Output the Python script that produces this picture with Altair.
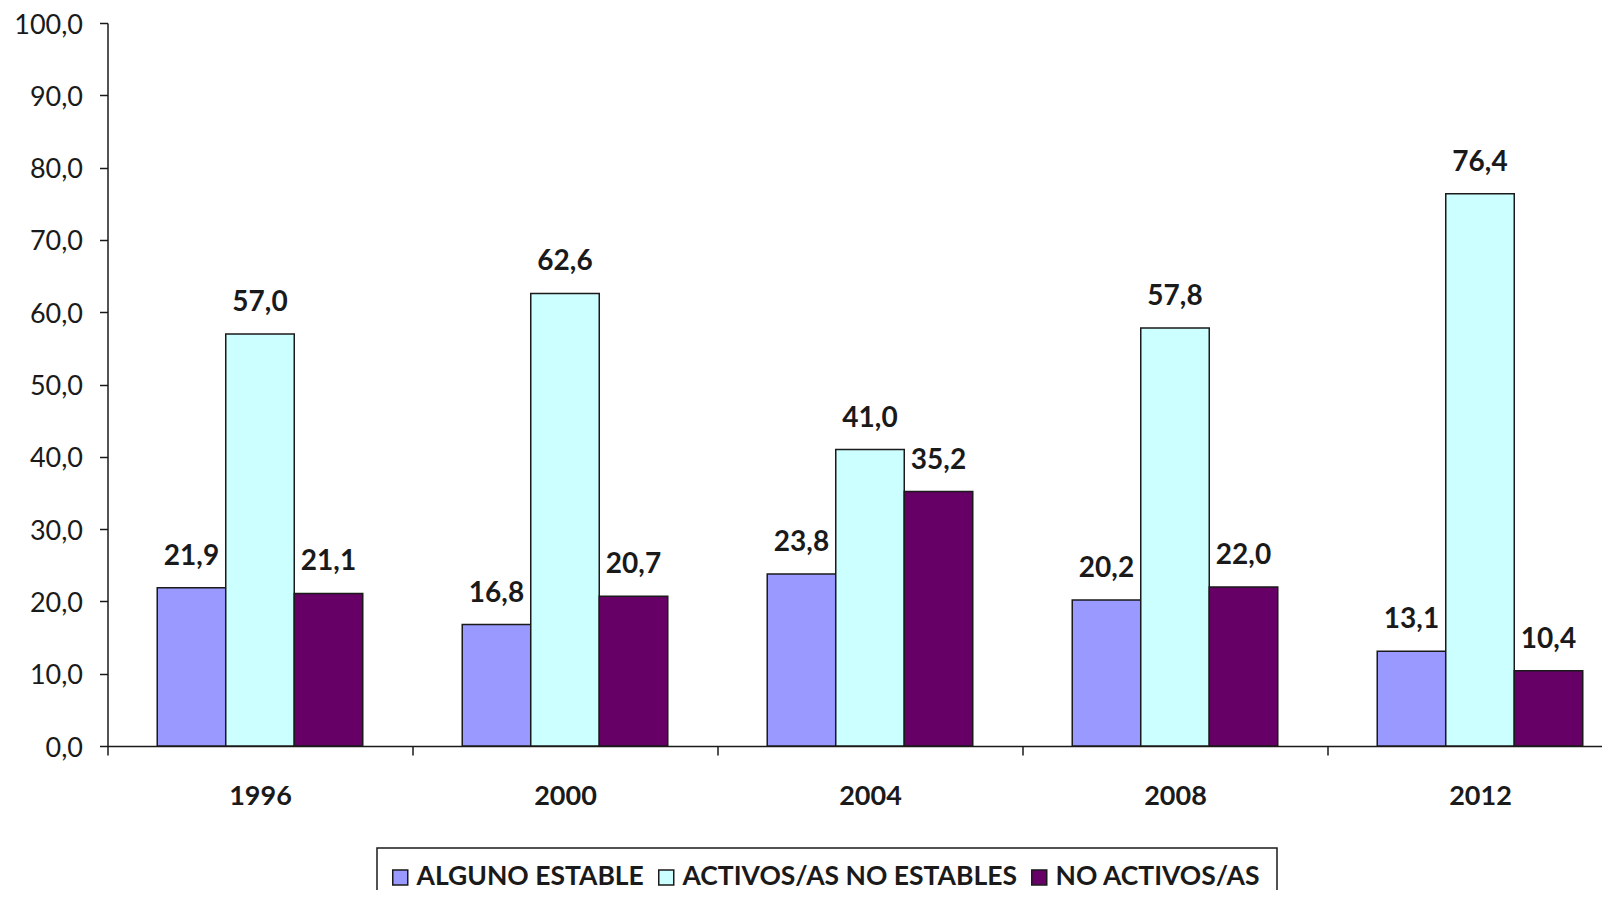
import altair as alt
import pandas as pd

years = ["1996", "2000", "2004", "2008", "2012"]
series = ["ALGUNO ESTABLE", "ACTIVOS/AS NO ESTABLES", "NO ACTIVOS/AS"]
alguno_estable = [21.9, 16.8, 23.8, 20.2, 13.1]
activos_no_estables = [57.0, 62.6, 41.0, 57.8, 76.4]
no_activos = [21.1, 20.7, 35.2, 22.0, 10.4]
colors = ["#9999FF", "#CCFFFF", "#660066"]
y_ticks = [0, 10, 20, 30, 40, 50, 60, 70, 80, 90, 100]

rows = []
for i, yr in enumerate(years):
    for s, vals in zip(series, [alguno_estable, activos_no_estables, no_activos]):
        rows.append({"year": yr, "serie": s, "valor": vals[i]})
df = pd.DataFrame(rows)

FONT = "Lato"
INK = "#1a1a1a"

x_enc = alt.X(
    "year:N", sort=years, title=None,
    scale=alt.Scale(range=[0, 1525], paddingInner=0, paddingOuter=0),
    axis=alt.Axis(labelAngle=0, labelFont=FONT, labelFontSize=27, labelFontWeight="bold",
                  labelColor=INK, labelBaseline="alphabetic", labelPadding=49,
                  tickSize=9, tickBand="extent", domainColor=INK, tickColor=INK,
                  domainWidth=1.5, tickWidth=1.5, grid=False),
)
xoff = alt.XOffset("serie:N", sort=series,
                   scale=alt.Scale(paddingInner=0, paddingOuter=0.726))
y_enc = alt.Y(
    "valor:Q", title=None,
    scale=alt.Scale(domain=[0, 100], nice=False),
    axis=alt.Axis(values=y_ticks, labelExpr="replace(format(datum.value,'.1f'),'.',',')",
                  labelFont=FONT, labelFontSize=27, labelColor=INK, tickSize=8,
                  labelPadding=17, labelOffset=2, domainColor=INK, domainWidth=1.5,
                  tickColor=INK, tickWidth=1.5, grid=False),
)

bars = alt.Chart(df).mark_bar(stroke=INK, strokeWidth=1.5).encode(
    x=x_enc, xOffset=xoff, y=y_enc,
    color=alt.Color("serie:N", sort=series,
                    scale=alt.Scale(domain=series, range=colors),
                    legend=alt.Legend(title=None, orient="none", legendX=269.5, legendY=825,
                                      direction="horizontal", symbolType="square",
                                      symbolSize=225, symbolStrokeColor=INK,
                                      symbolStrokeWidth=1.5, symbolOffset=-6,
                                      labelFont=FONT,
                                      labelFontSize=26.5, labelFontWeight="bold",
                                      labelColor=INK, labelOffset=3, columnPadding=11,
                                      labelLimit=600, padding=16, fillColor="white",
                                      strokeColor=INK)),
)

labels = alt.Chart(df).transform_calculate(
    label="replace(format(datum.valor,'.1f'),'.',',')"
).mark_text(font=FONT, fontSize=28, fontWeight="bold", color=INK,
            baseline="alphabetic", dy=-23).encode(
    x=alt.X("year:N", sort=years, title=None), xOffset=xoff, y=alt.Y("valor:Q"),
    text="label:N",
)

chart = alt.layer(bars, labels).properties(
    width=1494, height=723,
    autosize=alt.AutoSizeParams(type="none"),
    padding={"left": 99.5, "top": 15, "right": 0, "bottom": 144},
).configure_view(stroke=None).configure_legend(strokeWidth=1.5)

chart.save("out.html", embed_options={"renderer": "svg", "actions": False})
